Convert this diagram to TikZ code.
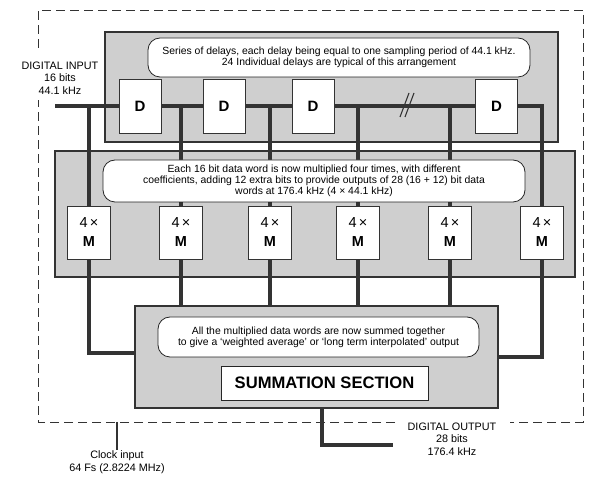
\documentclass[tikz,border=0pt]{standalone}
\usepackage{fontspec}
\setmainfont{Liberation Sans}
\begin{document}
\begin{tikzpicture}[x=1pt,y=-1pt,
  font=\fontsize{10.4}{11.3}\selectfont,
  panel/.style={draw=black!80, line width=1.6pt, fill=gray!38, inner sep=0pt},
  callout/.style={draw=black!85, line width=0.8pt, fill=white, rounded corners=12pt, align=center, inner sep=0pt},
  dbox/.style={draw=black!80, line width=0.6pt, fill=white, minimum width=42pt, minimum height=54pt, inner sep=0pt, font=\bfseries\fontsize{15}{17}\selectfont},
  mbox/.style={draw=black!80, line width=0.6pt, fill=white, minimum width=43pt, minimum height=53pt, inner sep=0pt, align=center, font=\fontsize{14.5}{19}\selectfont},
  wire/.style={line width=3.6pt, draw=black!80},
  dashbox/.style={draw=black!80, dash pattern=on 9pt off 5pt, line width=0.6pt},
  label/.style={align=center, font=\fontsize{10.8}{12.5}\selectfont, inner sep=1pt}]

\useasboundingbox (0,0) rectangle (590,486);

% outer dashed frame
\draw[dashbox] (38,48) -- (38,10) -- (583,10) -- (583,422) -- (510,422);
\draw[dashbox] (395,422) -- (38,422) -- (38,100);

% panels
\node[panel, minimum width=453pt, minimum height=110pt] (p1) at (331.5,87) {};
\node[panel, minimum width=520pt, minimum height=126pt] (p2) at (315,214) {};
\node[panel, minimum width=363pt, minimum height=102pt] (sum) at (316.5,357) {};

% delay boxes
\node[dbox] (d1) at (140,106) {D};
\node[dbox] (d2) at (224,106) {D};
\node[dbox] (d3) at (313,106) {D};
\node[dbox] (d4) at (496.5,106) {D};

% multiplier boxes
\node[mbox] (m1) at (89,232.5) {4\,×\\\textbf{M}};
\node[mbox] (m2) at (181,232.5) {4\,×\\\textbf{M}};
\node[mbox] (m3) at (270,232.5) {4\,×\\\textbf{M}};
\node[mbox] (m4) at (358,232.5) {4\,×\\\textbf{M}};
\node[mbox] (m5) at (450,232.5) {4\,×\\\textbf{M}};
\node[mbox] (m6) at (542,232.5) {4\,×\\\textbf{M}};

\coordinate (in) at (55,106);
\coordinate (corner) at (m6.north |- in);
\coordinate (brk) at (407,106);
\coordinate (outend) at (393,445);

% wires
\draw[wire] (in) -- (d1.west);
\draw[wire] (d1.east) -- (d2.west);
\draw[wire] (d2.east) -- (d3.west);
\draw[wire] (d3.east) -- (d4.west);
\draw[wire, line join=miter] (d4.east) -- (corner) -- (m6.north);
\draw[wire] (m1.north |- in) -- (m1.north);
\draw[wire] (m2.north |- in) -- (m2.north);
\draw[wire] (m3.north |- in) -- (m3.north);
\draw[wire] (m4.north |- in) -- (m4.north);
\draw[wire] (m5.north |- in) -- (m5.north);
\draw[wire, line join=miter] (m1.south) |- ([yshift=4pt]sum.west);
\draw[wire, line join=miter] (m6.south) |- (sum.east);
\draw[wire] (m2.south) -- (m2.south |- sum.north);
\draw[wire] (m3.south) -- (m3.south |- sum.north);
\draw[wire] (m4.south) -- (m4.south |- sum.north);
\draw[wire] (m5.south) -- (m5.south |- sum.north);
\draw[wire, line join=miter] ([xshift=5.5pt]sum.south) |- (outend);

% break mark
\draw[line width=1.1pt, black!80] ([shift={(-7,11)}]brk) -- ([shift={(2,-13)}]brk);
\draw[line width=1.1pt, black!80] ([shift={(-2,11)}]brk) -- ([shift={(7,-13)}]brk);

% callouts
\node[callout, minimum width=382pt, minimum height=39pt] (c1) at (339,57.5)
  {Series of delays, each delay being equal to one sampling period of 44.1 kHz.\\24 Individual delays are typical of this arrangement};
\node[callout, minimum width=422pt, minimum height=42pt] (c2) at (314,181)
  {Each 16 bit data word is now multiplied four times, with different\\coefficients, adding 12 extra bits to provide outputs of 28 (16 + 12) bit data\\words at 176.4 kHz (4 × 44.1 kHz)};
\node[callout, minimum width=321pt, minimum height=40pt] (c3) at (318.5,337)
  {All the multiplied data words are now summed together\\to give a ‘weighted average’ or ‘long term interpolated’ output};
\node[draw=black!85, line width=0.8pt, fill=white, minimum width=207pt, minimum height=34pt, inner sep=0pt,
  font=\bfseries\fontsize{16.6}{18}\selectfont] (st) at (324.5,383) {SUMMATION SECTION};

% labels
\node[label] (din) at (60,78) {DIGITAL INPUT\\16 bits\\44.1 kHz};
\node[label] (dout) at (452,439) {DIGITAL OUTPUT\\28 bits\\176.4 kHz};
\node[label] (clktext) at (117,462) {Clock input\\64 Fs (2.8224 MHz)};
\coordinate (clk) at (117,422);
\draw[line width=1.4pt, black!80] (clk) -- (clktext.north);
\end{tikzpicture}
\end{document}
